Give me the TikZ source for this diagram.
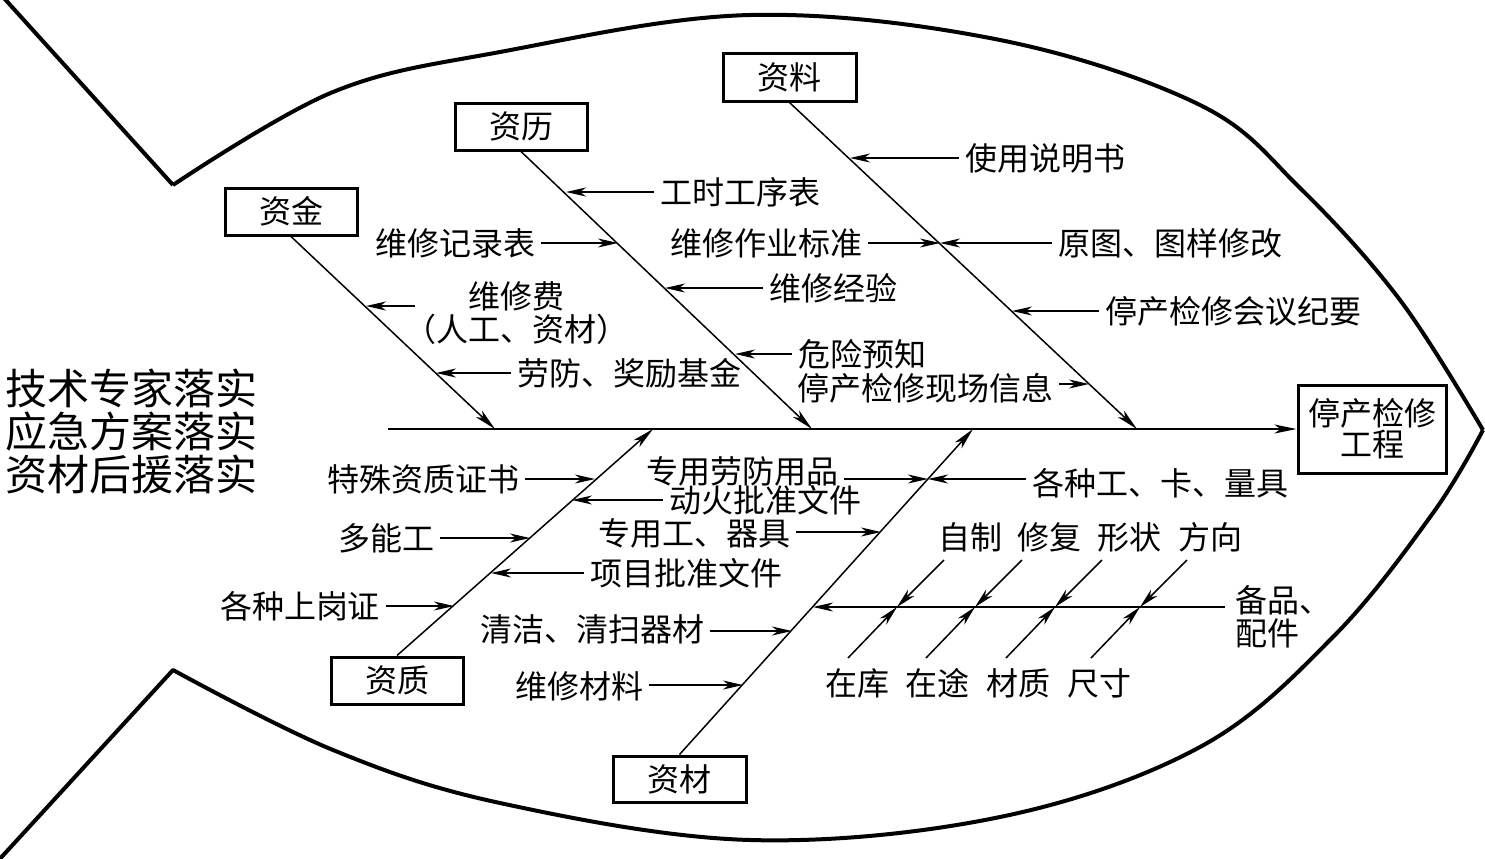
\documentclass[tikz,border=0pt]{standalone}
\usepackage{fontspec}
\setmainfont{Noto Sans CJK SC}
\usetikzlibrary{arrows.meta}
\begin{document}
\begin{tikzpicture}[x=0.5pt,y=-0.5pt,
  every node/.style={font=\fontsize{16pt}{16.5pt}\selectfont, inner sep=3pt},
  box/.style={draw, line width=1.5pt, inner sep=0pt},
  bone/.style={line width=0.75pt, -{Stealth[length=11pt,width=4.5pt,inset=3pt]}},
  arr/.style={line width=0.75pt, -{Stealth[length=10pt,width=4.5pt,inset=3pt]}},
  fish/.style={line width=2pt, line join=round}]

\useasboundingbox (0,0) rectangle (1485,858);

% fish outline
\draw[fish] (3,-3) -- (173,185) plot[smooth,tension=0.6] coordinates {(173,185) (333,92) (500,52) (750,15) (1000,40) (1200,105) (1300,188) (1400,300) (1483,430)};
\draw[fish] (1483,430) plot[smooth,tension=0.6] coordinates {(1483,430) (1433,513) (1333,637) (1200,747) (1000,817) (750,840) (500,803) (333,750) (173,670)} -- (-3,862);

% category boxes
\node[box, minimum width=66pt, minimum height=23.5pt] (zj) at (291,211.5) {资金};
\node[box, minimum width=66pt, minimum height=23.5pt] (zl) at (521,126.5) {资历};
\node[box, minimum width=66.5pt, minimum height=24pt] (zlz) at (789.5,77) {资料};
\node[box, minimum width=66pt, minimum height=23.5pt] (zz) at (397,680.5) {资质};
\node[box, minimum width=66.5pt, minimum height=23pt] (zc) at (679.5,779) {资材};
\node[box, minimum width=74pt, minimum height=44pt, align=center, font=\fontsize{16pt}{15.5pt}\selectfont] (head) at (1372,429) {停产检修\\工程};

% spine
\coordinate (sp0) at (388,429);
\draw[bone] (sp0) -- (head.west);

% bones
\coordinate (j1) at (495,429);
\coordinate (j2) at (812,429);
\coordinate (j3) at (1137,429);
\coordinate (j4) at (653,429);
\coordinate (j5) at (973,429);
\draw[bone] (zj.south) -- (j1);
\draw[bone] (zl.south) -- (j2);
\draw[bone] (zlz.south) -- (j3);
\draw[bone] (zz.north) -- (j4);
\draw[bone] (zc.north) -- (j5);

% left text
\node[align=left, anchor=west, inner sep=0pt, font=\fontsize{21pt}{21.5pt}\selectfont] (lefttxt) at (5,431) {技术专家落实\\应急方案落实\\资材后援落实};

% ---- 资金 branch
\node[align=center] (wxf) at (516,313) {维修费\\（人工、资材）};
\coordinate (s1) at (415,306);
\coordinate (t1) at (366,306);
\draw[arr] (s1) -- (t1);
\node (lf) at (629,373) {劳防、奖励基金};
\coordinate (t2) at (436,373);
\draw[arr] (lf.west) -- (t2);

% ---- 资历 branch
\node (wxjl) at (455,243) {维修记录表};
\coordinate (t3) at (618,243);
\draw[arr] (wxjl.east) -- (t3);
\node (gs) at (740,192) {工时工序表};
\coordinate (t4) at (566,192);
\draw[arr] (gs.west) -- (t4);
\node (jy) at (833,288) {维修经验};
\coordinate (t5) at (665,288);
\draw[arr] (jy.west) -- (t5);
\node (wx) at (862,354) {危险预知};
\coordinate (t6) at (735,354);
\draw[arr] (wx.west) -- (t6);

% ---- 资料 branch
\node (xc) at (925,388) {停产检修现场信息};
\coordinate (t7) at (1089,384);
\draw[arr] (xc.east |- t7) -- (t7);
\node (sy) at (1045,158) {使用说明书};
\coordinate (t8) at (850,158);
\draw[arr] (sy.west) -- (t8);
\node (bz) at (766,243) {维修作业标准};
\coordinate (t9) at (940,243);
\draw[arr] (bz.east) -- (t9);
\node (yt) at (1170,243) {原图、图样修改};
\draw[arr] (yt.west) -- (t9);
\node (hy) at (1233,311) {停产检修会议纪要};
\coordinate (t10) at (1012,311);
\draw[arr] (hy.west) -- (t10);

% ---- 资质 branch
\node (ts) at (423,479) {特殊资质证书};
\coordinate (t11) at (595,479);
\draw[arr] (ts.east) -- (t11);
\node (dh) at (765,500) {动火批准文件};
\coordinate (t12) at (572,500);
\draw[arr] (dh.west) -- (t12);
\node (dn) at (386,538) {多能工};
\coordinate (t13) at (530,538);
\draw[arr] (dn.east) -- (t13);
\node (xm) at (686,573) {项目批准文件};
\coordinate (t14) at (491,573);
\draw[arr] (xm.west) -- (t14);
\node (gz) at (300,606) {各种上岗证};
\coordinate (t15) at (454,606);
\draw[arr] (gz.east) -- (t15);

% ---- 资材 branch
\node (lfyp) at (742,471) {专用劳防用品};
\coordinate (t16) at (928,479);
\draw[arr] (lfyp.east |- t16) -- (t16);
\node (gjlj) at (1160,483) {各种工、卡、量具};
\draw[arr] (gjlj.west |- t16) -- (t16);
\node (zyq) at (694,533) {专用工、器具};
\coordinate (t17) at (881,532);
\draw[arr] (zyq.east |- t17) -- (t17);
\node (qj) at (592,629) {清洁、清扫器材};
\coordinate (t18) at (792,631);
\draw[arr] (qj.east |- t18) -- (t18);
\node (wxcl) at (579,686) {维修材料};
\coordinate (t19) at (743,685);
\draw[arr] (wxcl.east |- t19) -- (t19);

% ---- 备品、配件
\node[align=left, anchor=west, inner sep=0pt] (bp) at (1235,617) {备品、\\配件};
\coordinate (s20) at (1225,607);
\coordinate (t20) at (813,607);
\draw[arr] (s20) -- (t20);

\node (zzh) at (970,537) {自制};
\node (xf) at (1049,537) {修复};
\node (xz) at (1129,537) {形状};
\node (fx) at (1210,537) {方向};
\node (zk) at (857,683) {在库};
\node (zt) at (937,683) {在途};
\node (cz) at (1018,683) {材质};
\node (cc) at (1099,683) {尺寸};

\coordinate (c1) at (897,607);
\coordinate (c2) at (975,607);
\coordinate (c3) at (1055,607);
\coordinate (c4) at (1140,607);
\coordinate (a1) at (944,560);
\coordinate (a2) at (1022,560);
\coordinate (a3) at (1102,560);
\coordinate (a4) at (1187,560);
\coordinate (b1) at (848,658);
\coordinate (b2) at (926,658);
\coordinate (b3) at (1006,658);
\coordinate (b4) at (1091,658);
\foreach \i in {1,2,3,4} {
  \draw[arr] (a\i) -- (c\i);
  \draw[arr] (b\i) -- (c\i);
}
\end{tikzpicture}
\end{document}
